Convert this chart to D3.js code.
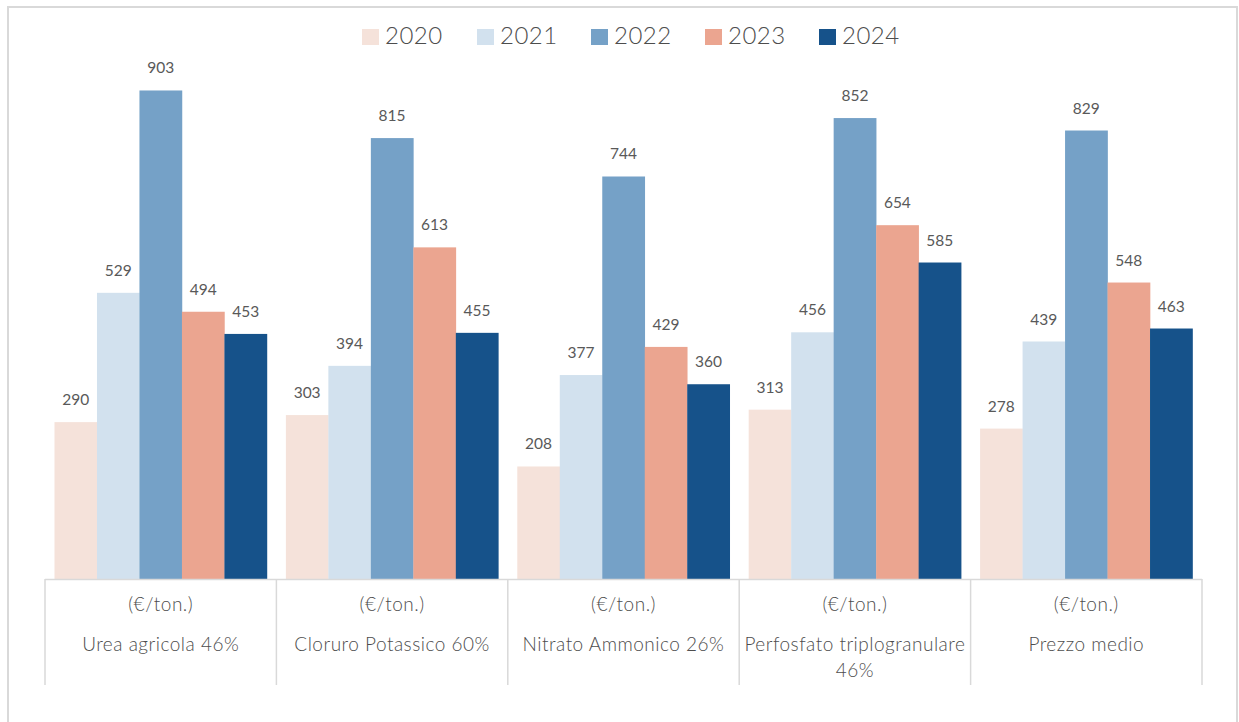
<!DOCTYPE html>
<html><head><meta charset="utf-8">
<script src="https://cdn.jsdelivr.net/npm/d3@7"></script>
<style>body{margin:0;background:#fff;}svg{display:block;}</style>
</head><body>
<svg id="c" width="1239" height="722"></svg>
<script>
const categories = [["Urea agricola 46%"],["Cloruro Potassico 60%"],["Nitrato Ammonico 26%"],["Perfosfato triplogranulare","46%"],["Prezzo medio"]];
const unitLabel = "(€/ton.)";
const years = ["2020","2021","2022","2023","2024"];
const v2020 = [290,303,208,313,278];
const v2021 = [529,394,377,456,439];
const v2022 = [903,815,744,852,829];
const v2023 = [494,613,429,654,548];
const v2024 = [453,455,360,585,463];
const seriesValues = [v2020,v2021,v2022,v2023,v2024];
const colors = ["#F5E2DA","#D2E1EE","#75A1C7","#EBA590","#16528A"];

const svg = d3.select("#c");
const font = "Lato, 'Open Sans', sans-serif";
const txt = "#595959";

// outer frame
svg.append("rect").attr("x",8).attr("y",7).attr("width",1229).attr("height",730)
  .attr("fill","none").attr("stroke","#d9d9d9").attr("stroke-width",2);

const x0 = d3.scaleBand().domain(d3.range(categories.length)).range([45,1202]).paddingInner(0.082).paddingOuter(0.041);
const x1 = d3.scaleBand().domain(years).range([0,x0.bandwidth()]);
const y = d3.scaleLinear().domain([0,1000]).range([579,38]);

const g = svg.append("g");
categories.forEach((c,i)=>{
  const gg = g.append("g").attr("transform",`translate(${x0(i)},0)`);
  years.forEach((yr,j)=>{
    const v = seriesValues[j][i];
    gg.append("rect").attr("x",x1(yr)).attr("y",y(v)).attr("width",x1.bandwidth()+0.3)
      .attr("height",y(0)-y(v)).attr("fill",colors[j]);
    gg.append("text").attr("x",x1(yr)+x1.bandwidth()/2).attr("y",y(v)-17)
      .attr("text-anchor","middle").attr("font-family",font).attr("font-size",15.5)
      .attr("fill",txt).text(v);
  });
});

// category axis with dividers
const axisLeft = 45, axisRight = 1202;
svg.append("line").attr("x1",axisLeft).attr("x2",axisRight).attr("y1",579.5).attr("y2",579.5)
  .attr("stroke","#d9d9d9").attr("stroke-width",1.5);
d3.range(categories.length+1).forEach(k=>{
  const xx = axisLeft + k*(axisRight-axisLeft)/categories.length;
  svg.append("line").attr("x1",xx).attr("x2",xx).attr("y1",579).attr("y2",685)
    .attr("stroke","#d9d9d9").attr("stroke-width",1.5);
});
categories.forEach((c,i)=>{
  const cx = axisLeft + (i+0.5)*(axisRight-axisLeft)/categories.length;
  svg.append("text").attr("x",cx).attr("y",611).attr("text-anchor","middle")
    .attr("font-family",font).attr("font-size",19).attr("font-weight",300).attr("letter-spacing",0.5)
    .attr("fill","#4d4d4d").text(unitLabel);
  c.forEach((line,k)=>{
    svg.append("text").attr("x",cx).attr("y",651+k*26).attr("text-anchor","middle")
      .attr("font-family",font).attr("font-size",19).attr("font-weight",300).attr("letter-spacing",0.5)
      .attr("fill","#4d4d4d").text(line);
  });
});

// legend
const legX = [362,477,591,705,819];
years.forEach((yr,j)=>{
  svg.append("rect").attr("x",legX[j]).attr("y",29).attr("width",17).attr("height",16).attr("fill",colors[j]);
  svg.append("text").attr("x",legX[j]+23).attr("y",44).attr("font-family",font).attr("font-size",24)
    .attr("font-weight",300).attr("letter-spacing",0.5).attr("fill","#4d4d4d").text(yr);
});
</script>
</body></html>
